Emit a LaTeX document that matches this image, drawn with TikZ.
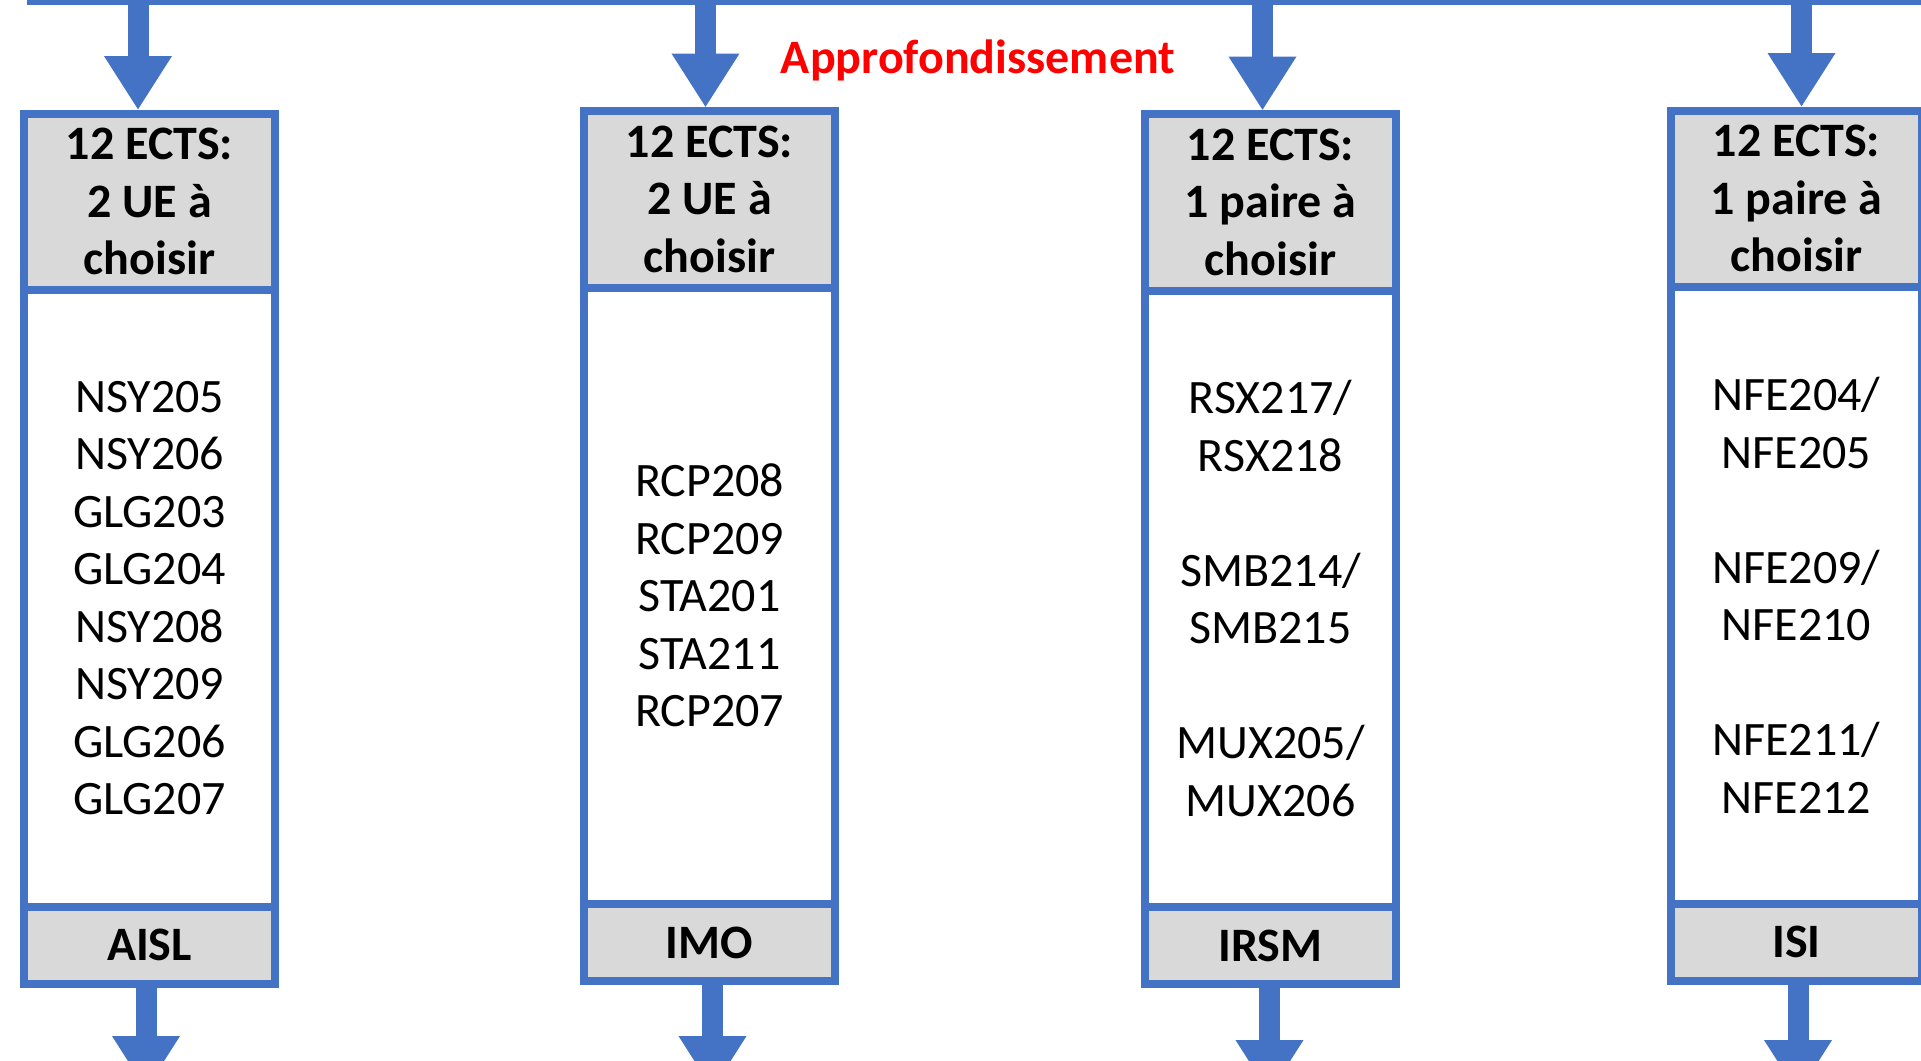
\documentclass[tikz,border=0pt]{standalone}
\usepackage{fontspec}
\setmainfont{Carlito}
\usetikzlibrary{arrows.meta}
\definecolor{myblue}{HTML}{4472C4}
\definecolor{mygray}{HTML}{D9D9D9}
\definecolor{myred}{HTML}{FF0000}
\tikzset{
  boxpart/.style={draw=myblue, line width=8pt, inner sep=0pt, outer sep=0pt,
    minimum width=251pt, align=center, anchor=north west},
  hdr/.style={boxpart, fill=mygray, minimum height=176.5pt,
    font=\bfseries\fontsize{48}{57.5}\selectfont},
  bodybox/.style={boxpart, fill=white, minimum height=616.5pt,
    font=\fontsize{48}{57.5}\selectfont},
  ftr/.style={boxpart, fill=mygray, minimum height=77pt,
    font=\bfseries\fontsize{48}{57.5}\selectfont},
  blockarrow/.style={draw=myblue, line width=21pt,
    -{Triangle[width=64pt,length=54pt,fill=myblue]}},
  titletext/.style={text=myred, font=\bfseries\fontsize{48}{58}\selectfont, anchor=base}
}
\begin{document}
\begin{tikzpicture}[x=1pt,y=-1pt]
\useasboundingbox (0,0) rectangle (1921,1060);
\clip (0,0) rectangle (1921,1060);

% top line
\coordinate (tl) at (27,2.5);
\coordinate (tr) at (1925,2.5);
\draw[myblue, line width=5pt] (tl) -- (tr);

% title
\node[titletext] (title) at (978,73) {Approfondissement};

% box 1 AISL
\node[hdr] (h1) at (24,113.5) {12 ECTS:\\2 UE à\\choisir};
\node[bodybox] (b1) at (h1.south west) {NSY205\\NSY206\\GLG203\\GLG204\\NSY208\\NSY209\\GLG206\\GLG207};
\node[ftr] (f1) at (b1.south west) {AISL};

% box 2 IMO
\node[hdr] (h2) at (584,111) {12 ECTS:\\2 UE à\\choisir};
\node[bodybox] (b2) at (h2.south west) {RCP208\\RCP209\\STA201\\STA211\\RCP207};
\node[ftr] (f2) at (b2.south west) {IMO};

% box 3 IRSM
\node[hdr] (h3) at (1145,114) {12 ECTS:\\1 paire à\\choisir};
\node[bodybox] (b3) at (h3.south west) {RSX217/\\RSX218\\~\\SMB214/\\SMB215\\~\\MUX205/\\MUX206};
\node[ftr] (f3) at (b3.south west) {IRSM};

% box 4 ISI
\node[hdr] (h4) at (1671,110.5) {12 ECTS:\\1 paire à\\choisir};
\node[bodybox] (b4) at (h4.south west) {NFE204/\\NFE205\\~\\NFE209/\\NFE210\\~\\NFE211/\\NFE212};
\node[ftr] (f4) at (b4.south west) {ISI};

% top arrows
\coordinate (t1) at (138,0);
\coordinate (t2) at (705.5,0);
\coordinate (t3) at (1262.5,0);
\coordinate (t4) at (1801.5,0);
\draw[blockarrow, shorten >=3.5pt] (t1) -- (t1 |- h1.north);
\draw[blockarrow, shorten >=3.5pt] (t2) -- (t2 |- h2.north);
\draw[blockarrow, shorten >=3.5pt] (t3) -- (t3 |- h3.north);
\draw[blockarrow, shorten >=3.5pt] (t4) -- (t4 |- h4.north);

% bottom arrows
\coordinate (e1) at (146,1090);
\coordinate (e2) at (712.5,1090);
\coordinate (e3) at (1269.5,1094);
\coordinate (e4) at (1798,1094);
\draw[blockarrow] (f1.south -| e1) -- (e1);
\draw[blockarrow] (f2.south -| e2) -- (e2);
\draw[blockarrow] (f3.south -| e3) -- (e3);
\draw[blockarrow] (f4.south -| e4) -- (e4);
\end{tikzpicture}
\end{document}
